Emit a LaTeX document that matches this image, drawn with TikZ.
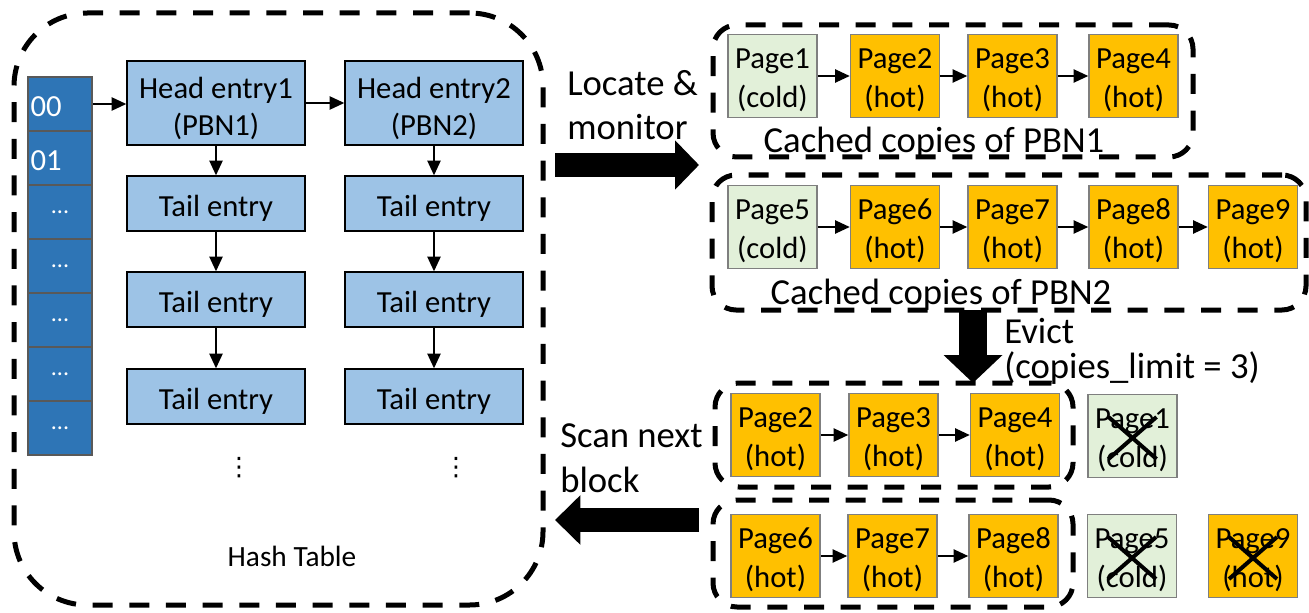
\documentclass[tikz,border=0pt]{standalone}
\usepackage{fontspec}
\setmainfont{Carlito}
\newfontfamily\symfont{DejaVu Sans}
\usetikzlibrary{arrows.meta}
\definecolor{bucketblue}{HTML}{2E75B6}
\definecolor{bucketedge}{HTML}{595959}
\definecolor{entryblue}{HTML}{9DC3E6}
\definecolor{coldgreen}{HTML}{E2F0D9}
\definecolor{hotorange}{HTML}{FFC000}
\definecolor{pageedge}{HTML}{7F7F7F}
% invisible strut that lowers the text inside a box a little
\newcommand{\boxstrut}[1]{\rule{0pt}{#1}}
% two-line box texts
\newcommand{\twolines}[3]{\boxstrut{#1}#2\\#3}
\begin{document}
\begin{tikzpicture}[x=0.75pt,y=-0.75pt,
  txt/.style={font=\fontsize{23}{27.75}\selectfont},
  lbl/.style={font=\fontsize{27.5}{33}\selectfont, inner sep=0pt},
  bucket/.style={draw=bucketedge, line width=1.5pt, fill=bucketblue, text=white,
    minimum width=48pt, minimum height=40.5pt, inner sep=0pt, txt},
  bucketnum/.style={bucket, align=left, text width=44pt,
    execute at begin node=\boxstrut{19pt}},
  bucketdots/.style={bucket, font=\fontsize{18}{20}\selectfont},
  entry/.style={draw=black, line width=1.1pt, fill=entryblue, minimum width=133.5pt,
    inner sep=0pt, align=center, txt},
  head/.style={entry, minimum height=63pt},
  tail/.style={entry, minimum height=41.25pt, execute at begin node=\boxstrut{23pt}},
  page/.style={draw=pageedge, line width=1.2pt, minimum width=66.75pt, minimum height=62pt,
    inner sep=0pt, align=center, font=\fontsize{23}{29}\selectfont},
  cold/.style={page, fill=coldgreen},
  hot/.style={page, fill=hotorange},
  group/.style={draw=black, line width=3.75pt, dash pattern=on 15pt off 12.5pt,
    rounded corners=18pt, inner sep=0pt, outer sep=0pt},
  more/.style={font=\symfont\fontsize{19}{19}\selectfont, inner sep=0pt},
  link/.style={line width=1.1pt, -{Triangle[length=11pt,width=10pt]}},
  bigarrow/.style={line width=17.5pt, -{Triangle[length=18pt,width=36pt]}},
  cross/.style={line width=3pt}
]
\useasboundingbox (0,0) rectangle (1309,613);

% ---------- hash table ----------
\node[group, rounded corners=55pt, minimum width=396.75pt, minimum height=444pt] (ht) at (278.5,309) {};

\node[bucketnum]  (b1) at (60,104) {00};
\node[bucketnum]  (b2) at (60,158) {01};
\node[bucketdots] (b3) at (60,212) {...};
\node[bucketdots] (b4) at (60,266) {...};
\node[bucketdots] (b5) at (60,320) {...};
\node[bucketdots] (b6) at (60,374) {...};
\node[bucketdots] (b7) at (60,428) {...};

\node[head] (h1) at (216,103) {\twolines{24pt}{Head entry1}{(PBN1)}};
\node[head] (h2) at (434,103) {\twolines{24pt}{Head entry2}{(PBN2)}};
\node[tail] (t11) at (216,203.5) {Tail entry};
\node[tail] (t12) at (216,299.5) {Tail entry};
\node[tail] (t13) at (216,396.5) {Tail entry};
\node[tail] (t21) at (434,203.5) {Tail entry};
\node[tail] (t22) at (434,299.5) {Tail entry};
\node[tail] (t23) at (434,396.5) {Tail entry};

\draw[link] (b1.east) -- (b1.east -| h1.west);
\draw[link] (h1.east) -- (h2.west);
\draw[link] (h1.south) -- (t11.north);
\draw[link] (t11.south) -- (t12.north);
\draw[link] (t12.south) -- (t13.north);
\draw[link] (h2.south) -- (t21.north);
\draw[link] (t21.south) -- (t22.north);
\draw[link] (t22.south) -- (t23.north);

\node[more] (m1) at (239,468) {⋮};
\node[more] (m2) at (456,468) {⋮};

\node[font=\fontsize{22}{26}\selectfont, anchor=base] (htl) at (292,566) {Hash Table};

% ---------- cached copies ----------
\node[group, minimum width=360pt, minimum height=99pt] (g1) at (953,91) {};
\node[group, minimum width=445.5pt, minimum height=101.25pt] (g2) at (1009,242.5) {};

\node[cold] (p1) at (772.5,76) {\twolines{21pt}{Page1}{(cold)}};
\node[hot]  (p2) at (895,76) {\twolines{21pt}{Page2}{(hot)}};
\node[hot]  (p3) at (1012.5,76) {\twolines{21pt}{Page3}{(hot)}};
\node[hot]  (p4) at (1133.5,76) {\twolines{21pt}{Page4}{(hot)}};
\draw[link] (p1.east) -- (p2.west);
\draw[link] (p2.east) -- (p3.west);
\draw[link] (p3.east) -- (p4.west);
\node[lbl, anchor=base] (c1) at (934,152) {Cached copies of PBN1};

\node[cold] (p5) at (772.5,227) {\twolines{21pt}{Page5}{(cold)}};
\node[hot]  (p6) at (895,227) {\twolines{21pt}{Page6}{(hot)}};
\node[hot]  (p7) at (1012.5,227) {\twolines{21pt}{Page7}{(hot)}};
\node[hot]  (p8) at (1133.5,227) {\twolines{21pt}{Page8}{(hot)}};
\node[hot]  (p9) at (1253,227) {\twolines{21pt}{Page9}{(hot)}};
\draw[link] (p5.east) -- (p6.west);
\draw[link] (p6.east) -- (p7.west);
\draw[link] (p7.east) -- (p8.west);
\draw[link] (p8.east) -- (p9.west);
\node[lbl, anchor=base] (c2) at (941,304) {Cached copies of PBN2};

% ---------- after eviction ----------
\node[group, minimum width=268.5pt, minimum height=78pt] (g3) at (894,435) {};
\node[group, minimum width=270pt, minimum height=80.25pt] (g4) at (893,553.5) {};

\node[hot]  (q2) at (775.5,435) {\twolines{21pt}{Page2}{(hot)}};
\node[hot]  (q3) at (893.5,435) {\twolines{21pt}{Page3}{(hot)}};
\node[hot]  (q4) at (1015,435) {\twolines{21pt}{Page4}{(hot)}};
\node[cold] (q1) at (1132.5,436) {\twolines{21pt}{Page1}{(cold)}};
\draw[link] (q2.east) -- (q3.west);
\draw[link] (q3.east) -- (q4.west);

\node[hot]  (q6) at (775.5,556) {\twolines{21pt}{Page6}{(hot)}};
\node[hot]  (q7) at (892.5,556) {\twolines{21pt}{Page7}{(hot)}};
\node[hot]  (q8) at (1013.5,556) {\twolines{21pt}{Page8}{(hot)}};
\node[cold] (q5) at (1132,556) {\twolines{21pt}{Page5}{(cold)}};
\node[hot]  (q9) at (1253,556) {\twolines{21pt}{Page9}{(hot)}};
\draw[link] (q6.east) -- (q7.west);
\draw[link] (q7.east) -- (q8.west);

\foreach \n in {q1,q5,q9}{
  \draw[cross] ([shift={(-24,-19)}]\n.center) -- ([shift={(24,23)}]\n.center);
  \draw[cross] ([shift={(24,-19)}]\n.center) -- ([shift={(-24,23)}]\n.center);
}

% ---------- big arrows and their labels ----------
\coordinate (locA) at (555,165);
\coordinate (locB) at (699,165);
\draw[bigarrow] (locA) -- (locB);
\node[lbl, anchor=base west] (loc1) at (567,96) {Locate \&};
\node[lbl, anchor=base west] (loc2) at (567,140) {monitor};

\coordinate (evx) at (973,0);
\draw[line width=21pt, -{Triangle[length=21pt,width=43pt]}] (g2.south -| evx) -- (g3.north -| evx);
\node[lbl, anchor=base west] (ev1) at (1004,343) {Evict};
\node[lbl, anchor=base west] (ev2) at (1004,378) {(copies\_limit = 3)};

\coordinate (scA) at (699,520);
\coordinate (scB) at (555,520);
\draw[bigarrow, line width=18pt, -{Triangle[length=19pt,width=36pt]}] (scA) -- (scB);
\node[lbl, anchor=base west] (sc1) at (560,447) {Scan next};
\node[lbl, anchor=base west] (sc2) at (560,492) {block};
\end{tikzpicture}
\end{document}
